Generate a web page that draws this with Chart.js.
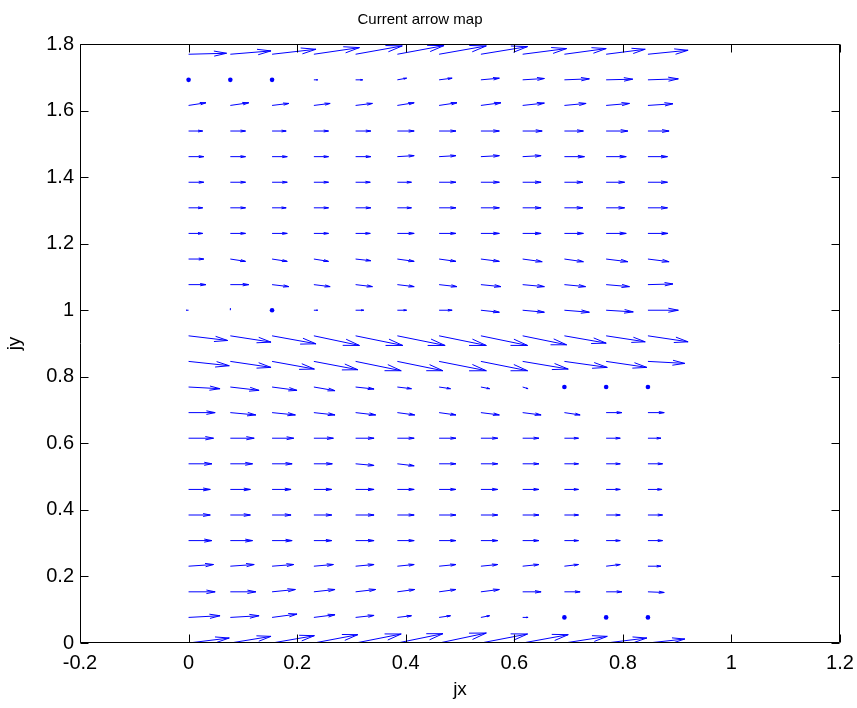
<!DOCTYPE html>
<html>
<head>
<meta charset="utf-8">
<title>Current arrow map</title>
<script src="https://cdn.jsdelivr.net/npm/chart.js@4.4.1/dist/chart.umd.min.js"></script>
<style>
  html, body { margin: 0; padding: 0; background: #fff; }
  #wrap { width: 857px; height: 708px; }
</style>
</head>
<body>
<div id="wrap"><canvas id="arrowChart" width="857" height="708"></canvas></div>
<script>
// Arrow tail positions (grid step 1/13)
const xGrid = [0, 0.0769, 0.1538, 0.2308, 0.3077, 0.3846, 0.4615, 0.5385, 0.6154, 0.6923, 0.7692, 0.8462];
const yGrid = [0, 0.0769, 0.1538, 0.2308, 0.3077, 0.3846, 0.4615, 0.5385, 0.6154, 0.6923, 0.7692, 0.8462,
               0.9231, 1.0, 1.0769, 1.1538, 1.2308, 1.3077, 1.3846, 1.4615, 1.5385, 1.6154, 1.6923, 1.7692];

// jx component of each arrow, one row per yGrid value (bottom row first)
const uRows = [
  [0.075, 0.075, 0.078, 0.081, 0.084, 0.084, 0.087, 0.086, 0.084, 0.079, 0.075, 0.068],
  [0.058, 0.053, 0.046, 0.039, 0.034, 0.026, 0.021, 0.016, 0.010, 0, 0, 0],
  [0.049, 0.047, 0.043, 0.039, 0.037, 0.032, 0.031, 0.034, 0.034, 0.029, 0.029, 0.030],
  [0.046, 0.044, 0.040, 0.036, 0.034, 0.031, 0.031, 0.031, 0.030, 0.026, 0.026, 0.024],
  [0.043, 0.041, 0.037, 0.033, 0.034, 0.031, 0.031, 0.031, 0.030, 0.026, 0.026, 0.027],
  [0.040, 0.037, 0.035, 0.033, 0.034, 0.031, 0.031, 0.031, 0.030, 0.026, 0.026, 0.027],
  [0.040, 0.037, 0.035, 0.033, 0.034, 0.031, 0.031, 0.031, 0.030, 0.026, 0.026, 0.026],
  [0.043, 0.041, 0.037, 0.034, 0.034, 0.031, 0.031, 0.031, 0.030, 0.026, 0.026, 0.027],
  [0.046, 0.044, 0.040, 0.036, 0.034, 0.031, 0.031, 0.031, 0.030, 0.026, 0.026, 0.024],
  [0.049, 0.047, 0.043, 0.039, 0.037, 0.032, 0.031, 0.034, 0.034, 0.029, 0.029, 0.030],
  [0.058, 0.053, 0.046, 0.039, 0.034, 0.026, 0.021, 0.016, 0.010, 0, 0, 0],
  [0.075, 0.075, 0.078, 0.081, 0.084, 0.084, 0.087, 0.086, 0.084, 0.079, 0.075, 0.068],
  [0.072, 0.075, 0.081, 0.084, 0.087, 0.088, 0.087, 0.086, 0.081, 0.077, 0.072, 0.074],
  [-0.004, 0, 0, 0.007, 0.015, 0.017, 0.024, 0.034, 0.040, 0.046, 0.050, 0.056],
  [0.032, 0.034, 0.031, 0.030, 0.031, 0.031, 0.033, 0.037, 0.040, 0.039, 0.043, 0.046],
  [0.028, 0.028, 0.028, 0.027, 0.028, 0.031, 0.031, 0.034, 0.036, 0.035, 0.040, 0.039],
  [0.026, 0.028, 0.028, 0.027, 0.027, 0.031, 0.031, 0.034, 0.034, 0.035, 0.037, 0.037],
  [0.026, 0.028, 0.026, 0.027, 0.028, 0.026, 0.031, 0.034, 0.034, 0.034, 0.034, 0.036],
  [0.028, 0.028, 0.028, 0.027, 0.027, 0.026, 0.031, 0.034, 0.034, 0.034, 0.034, 0.036],
  [0.028, 0.028, 0.028, 0.027, 0.028, 0.031, 0.031, 0.034, 0.034, 0.037, 0.037, 0.036],
  [0.026, 0.028, 0.026, 0.027, 0.028, 0.031, 0.031, 0.034, 0.036, 0.035, 0.040, 0.039],
  [0.032, 0.034, 0.031, 0.030, 0.031, 0.031, 0.033, 0.037, 0.040, 0.040, 0.043, 0.046],
  [0, 0, 0, 0.007, 0.013, 0.017, 0.024, 0.034, 0.040, 0.046, 0.049, 0.056],
  [0.070, 0.075, 0.081, 0.084, 0.086, 0.086, 0.087, 0.086, 0.081, 0.077, 0.072, 0.074]
];

// jy component of each arrow, same layout as uRows
const vRows = [
  [0.015, 0.020, 0.022, 0.025, 0.027, 0.028, 0.030, 0.027, 0.025, 0.020, 0.015, 0.012],
  [0.005, 0.005, 0.010, 0.008, 0.006, 0.005, 0.005, 0.005, 0, 0, 0, 0],
  [0, 0, 0.007, 0.007, 0.007, 0.007, 0.007, 0.007, 0, 0, 0, -0.002],
  [0.005, 0.005, 0.005, 0.005, 0.005, 0.005, 0.005, 0.005, 0.005, 0.005, 0.005, 0],
  [0, 0, 0, 0, 0, 0, 0, 0, 0, 0, 0, 0],
  [0, 0, 0, 0, 0, 0, 0, 0, 0, 0, 0, 0],
  [0, 0, 0, 0, 0, 0, 0, 0, 0, 0, 0, 0],
  [0, 0, 0, 0, -0.005, -0.006, 0, 0, 0, 0, 0, 0],
  [0, 0, 0, 0, 0, 0, 0, 0, 0, 0, 0, 0],
  [0, -0.007, -0.007, -0.007, -0.007, -0.007, -0.007, -0.007, -0.007, -0.007, 0, 0],
  [-0.005, -0.010, -0.010, -0.011, -0.006, -0.005, -0.005, -0.005, -0.005, 0, 0, 0],
  [-0.013, -0.018, -0.023, -0.025, -0.028, -0.028, -0.028, -0.028, -0.023, -0.018, -0.018, -0.006],
  [-0.014, -0.019, -0.024, -0.029, -0.029, -0.029, -0.029, -0.029, -0.027, -0.022, -0.018, -0.018],
  [0, 0.005, 0, 0, 0, 0, 0, -0.006, -0.006, -0.006, -0.005, 0],
  [0, 0, -0.006, -0.006, -0.006, -0.006, -0.006, -0.006, -0.006, -0.006, -0.006, 0.002],
  [0, -0.007, -0.007, -0.007, -0.005, -0.007, -0.007, -0.007, -0.008, -0.008, -0.008, -0.008],
  [0, 0, 0, 0, 0, 0, 0, 0, 0, 0, 0, 0],
  [0, 0, 0, 0, 0, 0, 0, 0, 0, 0, 0, 0],
  [0, 0, 0, 0, 0, 0, 0, 0, 0, 0, 0, 0],
  [0, 0, 0, 0, 0, 0.003, 0.003, 0.003, 0.003, 0, 0, 0],
  [0, 0, 0, 0, 0, 0, 0, 0, 0, 0, 0, 0],
  [0.008, 0.008, 0.006, 0.006, 0.006, 0.008, 0.008, 0.008, 0.007, 0.006, 0.006, 0.005],
  [0, 0, 0, 0, 0, 0.005, 0.005, 0.005, 0.004, 0.003, 0.002, 0.003],
  [0.003, 0.010, 0.015, 0.020, 0.025, 0.026, 0.025, 0.023, 0.017, 0.017, 0.015, 0.012]
];

const xTicks = [-0.2, 0, 0.2, 0.4, 0.6, 0.8, 1, 1.2];
const yTicks = [0, 0.2, 0.4, 0.6, 0.8, 1, 1.2, 1.4, 1.6, 1.8];

// quiver style arrow heads (same proportions as matlab)
const alpha = 0.33, beta = 0.33;

const shafts = [], heads = [], dots = [];
yGrid.forEach((y, j) => {
  xGrid.forEach((x, i) => {
    const u = uRows[j][i], v = vRows[j][i];
    if (u === 0 && v === 0) {
      dots.push({ x: x, y: y });
      return;
    }
    const tx = x + u, ty = y + v;
    shafts.push({ x: x, y: y }, { x: tx, y: ty }, { x: tx, y: null });
    heads.push(
      { x: tx - alpha * (u + beta * v), y: ty - alpha * (v - beta * u) },
      { x: tx, y: ty },
      { x: tx - alpha * (u - beta * v), y: ty - alpha * (v + beta * u) },
      { x: tx, y: null }
    );
  });
});

// box round the plot with inward ticks on all four sides
const boxTicks = {
  id: 'boxTicks',
  afterDatasetsDraw(chart) {
    const { ctx, chartArea: a, scales } = chart;
    const L = Math.round(a.left) + 0.5, R = Math.round(a.right) - 0.5;
    const T = Math.round(a.top) + 0.5, B = Math.round(a.bottom) - 0.5;
    const len = 8;
    ctx.save();
    ctx.strokeStyle = '#000';
    ctx.lineWidth = 1;
    ctx.beginPath();
    ctx.rect(L, T, R - L, B - T);
    xTicks.forEach(v => {
      const px = Math.round(scales.x.getPixelForValue(v)) + 0.5;
      ctx.moveTo(px, B); ctx.lineTo(px, B - len);
      ctx.moveTo(px, T); ctx.lineTo(px, T + len);
    });
    yTicks.forEach(v => {
      const py = Math.round(scales.y.getPixelForValue(v)) + 0.5;
      ctx.moveTo(L, py); ctx.lineTo(L + len, py);
      ctx.moveTo(R, py); ctx.lineTo(R - len, py);
    });
    ctx.stroke();
    ctx.restore();
  }
};

const font = 'Liberation Sans, Arial, Helvetica, sans-serif';
const blue = '#0000ff';

new Chart(document.getElementById('arrowChart'), {
  type: 'scatter',
  data: {
    datasets: [
      { data: shafts, showLine: true, spanGaps: false, borderColor: blue, borderWidth: 1, pointRadius: 0, tension: 0 },
      { data: heads, showLine: true, spanGaps: false, borderColor: blue, borderWidth: 1, pointRadius: 0, tension: 0 },
      { data: dots, showLine: false, pointRadius: 2.3, pointBackgroundColor: blue, pointBorderWidth: 0 }
    ]
  },
  options: {
    responsive: false,
    animation: false,
    events: [],
    layout: { padding: { left: 0, right: 17, top: 0, bottom: 0 } },
    plugins: {
      legend: { display: false },
      tooltip: { enabled: false },
      title: {
        display: true,
        text: 'Current arrow map',
        color: '#000',
        font: { family: font, size: 15, weight: 'normal' },
        padding: { top: 11, bottom: 15 }
      }
    },
    scales: {
      x: {
        type: 'linear',
        position: 'bottom',
        min: -0.2,
        max: 1.2,
        grid: { display: false, drawTicks: false },
        border: { display: false },
        afterBuildTicks: s => { s.ticks = xTicks.map(v => ({ value: v })); },
        afterFit: s => { s.height = 65; s.paddingLeft = 0; s.paddingRight = 0; },
        ticks: {
          color: '#000',
          font: { family: font, size: 20 },
          padding: 8,
          maxRotation: 0,
          autoSkip: false,
          callback: v => String(+v.toFixed(1))
        },
        title: {
          display: true,
          text: 'jx',
          color: '#000',
          font: { family: font, size: 19 },
          padding: { top: 0, bottom: 7 }
        }
      },
      y: {
        type: 'linear',
        position: 'left',
        min: 0,
        max: 1.8,
        grid: { display: false, drawTicks: false },
        border: { display: false },
        afterBuildTicks: s => { s.ticks = yTicks.map(v => ({ value: v })); },
        afterFit: s => { s.width = 80; s.paddingTop = 0; s.paddingBottom = 0; },
        ticks: {
          color: '#000',
          font: { family: font, size: 20 },
          padding: 6,
          autoSkip: false,
          callback: v => String(+v.toFixed(1))
        },
        title: {
          display: true,
          text: 'jy',
          color: '#000',
          font: { family: font, size: 19 },
          padding: { top: 3, bottom: 0 }
        }
      }
    }
  },
  plugins: [boxTicks]
});
</script>
</body>
</html>
